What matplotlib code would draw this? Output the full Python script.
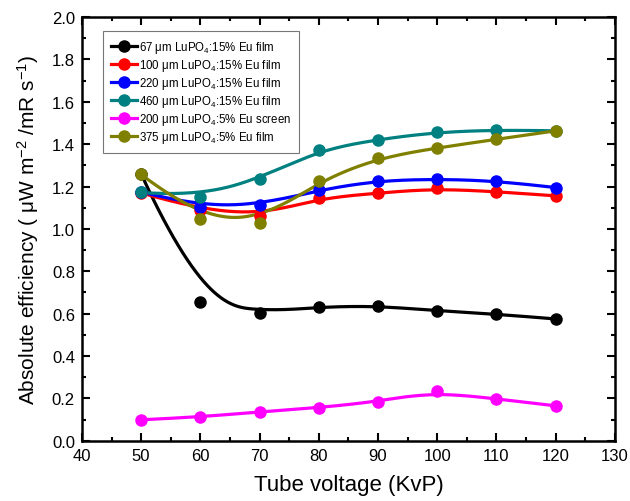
import numpy as np
import matplotlib
matplotlib.use("Agg")
import matplotlib.pyplot as plt

plt.rcParams['font.family'] = ['Liberation Sans', 'DejaVu Sans']
plt.rcParams['mathtext.fontset'] = 'custom'
plt.rcParams['mathtext.rm'] = 'Liberation Sans'
plt.rcParams['mathtext.it'] = 'Liberation Sans:italic'
plt.rcParams['mathtext.default'] = 'regular'

voltage = [50, 60, 70, 80, 90, 100, 110, 120]
labels = [
    "67 μm LuPO$_4$:15% Eu film",
    "100 μm LuPO$_4$:15% Eu film",
    "220 μm LuPO$_4$:15% Eu film",
    "460 μm LuPO$_4$:15% Eu film",
    "200 μm LuPO$_4$:5% Eu screen",
    "375 μm LuPO$_4$:5% Eu film",
]
film67 = [1.26, 0.653, 0.605, 0.632, 0.637, 0.613, 0.598, 0.575]
film100 = [1.17, 1.09, 1.06, 1.146, 1.168, 1.193, 1.176, 1.156]
film220 = [1.175, 1.104, 1.112, 1.184, 1.228, 1.236, 1.228, 1.195]
film460 = [1.172, 1.153, 1.235, 1.373, 1.422, 1.458, 1.468, 1.463]
screen200 = [0.099, 0.112, 0.137, 0.156, 0.185, 0.236, 0.197, 0.165]
film375 = [1.257, 1.045, 1.03, 1.226, 1.335, 1.383, 1.423, 1.463]
series = [film67, film100, film220, film460, screen200, film375]
colors = ['#000000', '#FF0000', '#0000FF', '#008080', '#FF00FF', '#808000']


def bspline(xs, ys, k=3, num=300):
    P = np.column_stack([xs, ys]).astype(float)
    n = len(P)
    inner = np.arange(1, n - k)
    t = np.concatenate([np.zeros(k + 1), inner, np.full(k + 1, n - k)]).astype(float)
    u = np.linspace(0, n - k, num)
    u[-1] -= 1e-9
    N = np.zeros((num, len(t) - 1))
    for i in range(len(t) - 1):
        N[:, i] = ((u >= t[i]) & (u < t[i + 1])).astype(float)
    for d in range(1, k + 1):
        Nn = np.zeros((num, len(t) - 1 - d))
        for i in range(len(t) - 1 - d):
            den1 = t[i + d] - t[i]
            den2 = t[i + d + 1] - t[i + 1]
            term = np.zeros(num)
            if den1 > 0:
                term += (u - t[i]) / den1 * N[:, i]
            if den2 > 0:
                term += (t[i + d + 1] - u) / den2 * N[:, i + 1]
            Nn[:, i] = term
        N = Nn
    C = N @ P
    return C[:, 0], C[:, 1]


fig = plt.figure(figsize=(6.3, 5.02), dpi=100)
ax = fig.add_axes([0.130, 0.120, 0.846, 0.844])

for ys, c, lab in zip(series, colors, labels):
    cx, cy = bspline(voltage, ys)
    ax.plot(cx, cy, color=c, lw=2.3, zorder=2)
    ax.plot(voltage, ys, 'o', color=c, ms=8, zorder=3)
    ax.plot([], [], '-o', color=c, lw=2.3, ms=8, label=lab)

ax.set_xlim(40, 130)
ax.set_ylim(0, 2.0)
ax.set_xticks(np.arange(40, 131, 10))
ax.set_xticks(np.arange(45, 130, 10), minor=True)
ax.set_yticks(np.arange(0, 2.01, 0.2))
ax.set_yticks(np.arange(0.1, 2.0, 0.2), minor=True)
ax.yaxis.set_major_formatter(matplotlib.ticker.FormatStrFormatter('%.1f'))
ax.tick_params(which='both', direction='in', top=True, right=True, width=1.5,
               labelsize=12, colors='black', pad=5)
ax.tick_params(which='major', length=6)
ax.tick_params(which='minor', length=3)
for s in ax.spines.values():
    s.set_linewidth(1.8)

ax.set_xlabel("Tube voltage (KvP)", fontsize=16, labelpad=8)
ax.set_ylabel("Absolute efficiency ( μW m$^{-2}$ /mR s$^{-1}$)", fontsize=15, labelpad=8)

leg = ax.legend(loc='upper left', bbox_to_anchor=(0.039, 0.967), borderaxespad=0,
                fontsize=8.3, frameon=True, fancybox=False, edgecolor='#555555',
                handlelength=2.3, handletextpad=0.15, labelspacing=0.17,
                borderpad=0.7)
leg.get_frame().set_linewidth(0.8)

fig.savefig("out.png", dpi=100)
